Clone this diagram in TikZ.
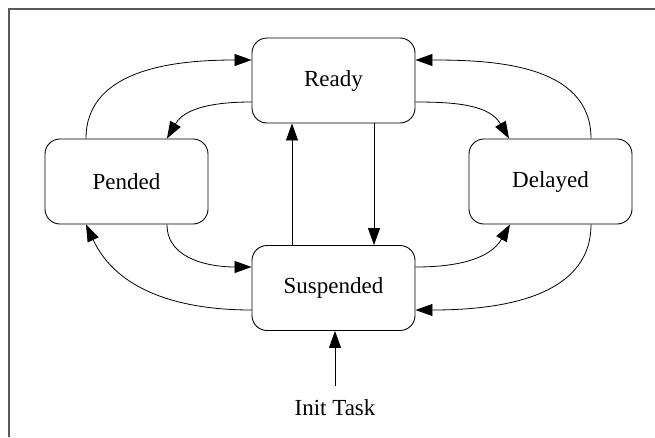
\documentclass[tikz,border=0pt]{standalone}
\usepackage{fontspec}
\setmainfont{Liberation Serif}
\usetikzlibrary{arrows.meta}
\begin{document}
\begin{tikzpicture}[x=1pt,y=-1pt,
  state/.style={draw,line width=0.9pt,rounded corners=15pt,minimum width=163pt,minimum height=85pt,inner sep=0pt,font=\fontsize{23}{26}\selectfont},
  lbl/.style={font=\fontsize{23}{26}\selectfont,inner xsep=2pt,inner ysep=14pt},
  conn/.style={line width=0.8pt,-{Triangle[length=17pt,width=12pt]}},
  frameline/.style={draw=black!65,line width=1.3pt}]
\useasboundingbox (0,0) rectangle (655,437);
\draw[frameline] (8,9) -- (655,9);
\draw[frameline] (9,9) -- (9,437);
\node[state] (ready) at (333.5,80.5) {Ready};
\node[state] (pended) at (126.5,181.5) {Pended};
\node[state] (delayed) at (550.5,181.5) {Delayed};
\node[state] (susp) at (333.5,288) {Suspended};
\node[lbl] (init) at (335,408) {Init Task};
% Pended <-> Ready
\draw[conn] ([xshift=-40.5pt]pended.north) to[out=90,in=180] ([yshift=20.5pt]ready.west);
\draw[conn] ([yshift=-21.5pt]ready.west) to[out=180,in=60] ([xshift=40.5pt]pended.north);
% Delayed <-> Ready
\draw[conn] ([yshift=-21.5pt]ready.east) to[out=0,in=120] ([xshift=-41.5pt]delayed.north);
\draw[conn] ([xshift=40.5pt]delayed.north) to[out=90,in=0] ([yshift=20.5pt]ready.east);
% Ready <-> Suspended
\draw[conn] ([xshift=40.5pt]ready.south) -- ([xshift=40.5pt]susp.north);
\draw[conn] ([xshift=-41.5pt]susp.north) -- ([xshift=-41.5pt]ready.south);
% Pended <-> Suspended
\draw[conn] ([xshift=40.5pt]pended.south) to[out=270,in=180] ([yshift=21pt]susp.west);
\draw[conn] ([yshift=-22pt]susp.west) to[out=180,in=-65] ([xshift=-40.5pt]pended.south);
% Delayed <-> Suspended
\draw[conn] ([yshift=21pt]susp.east) to[out=0,in=-120] ([xshift=-40.5pt]delayed.south);
\draw[conn] ([xshift=40.5pt]delayed.south) to[out=270,in=0] ([yshift=-22pt]susp.east);
% Init
\draw[conn] (init.north) -- (init.north |- susp.south);
\end{tikzpicture}
\end{document}
